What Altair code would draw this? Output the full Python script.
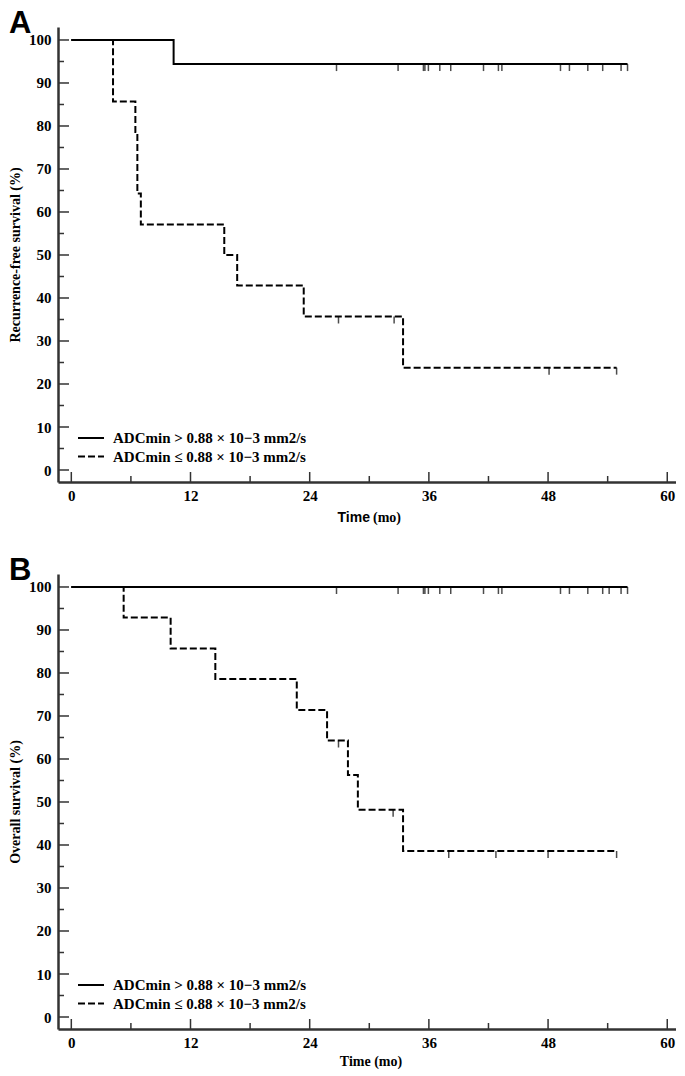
import altair as alt
import pandas as pd

# ---------------- data ----------------
GROUPS = ["ADCmin > 0.88 × 10−3 mm2/s", "ADCmin ≤ 0.88 × 10−3 mm2/s"]

# Panel A: recurrence-free survival
a_hi_t = [0, 10.3, 56.0]
a_hi_s = [100, 94.4, 94.4]
a_hi_cens_t = [26.7, 32.9, 35.45, 35.6, 35.95, 37.1, 38.2, 41.5, 43.0, 43.35,
               49.25, 50.15, 52.0, 53.5, 55.35, 56.0]
a_lo_t = [0, 4.2, 6.45, 6.65, 7.0, 15.4, 16.7, 23.4, 33.4, 54.9]
a_lo_s = [100, 85.7, 78.6, 64.3, 57.1, 50.0, 42.9, 35.7, 23.8, 23.8]
a_lo_cens_t = [26.9, 32.5, 48.1, 54.9]
a_lo_cens_s = [35.7, 35.7, 23.8, 23.8]

# Panel B: overall survival
b_hi_t = [0, 56.0]
b_hi_s = [100, 100]
b_hi_cens_t = [26.7, 32.9, 35.45, 35.6, 35.95, 37.1, 38.2, 41.5, 43.0, 43.35,
               49.25, 50.15, 52.0, 53.5, 54.15, 55.35, 56.0]
b_lo_t = [0, 5.27, 10.0, 14.5, 22.7, 25.75, 27.85, 28.85, 33.4, 54.9]
b_lo_s = [100, 92.9, 85.7, 78.6, 71.4, 64.3, 56.25, 48.2, 38.6, 38.6]
b_lo_cens_t = [26.9, 32.4, 38.0, 42.75, 48.0, 54.9]
b_lo_cens_s = [64.3, 48.2, 38.6, 38.6, 38.6, 38.6]

X_TICKS = [0, 12, 24, 36, 48, 60]
X_MINOR = [6, 18, 30, 42, 54]
Y_TICKS = [0, 10, 20, 30, 40, 50, 60, 70, 80, 90, 100]
Y_MINOR = [5, 15, 25, 35, 45, 55, 65, 75, 85, 95]

# ---------------- styling ----------------
W, H = 618, 455
XDOM = [-1.34, 60.88]
YDOM = [-2.79, 103.02]
SERIF = "Liberation Serif"
SANS = "Liberation Sans"
AX = "#333333"
DASH = [7, 3]


def one(**kw):
    return pd.DataFrame({k: [v] for k, v in kw.items()})


def panel(letter, ytitle, hi_t, hi_s, hi_ct, lo_t, lo_s, lo_ct, lo_cs, mixed_title, title_dy):
    curves = pd.DataFrame({
        "t": hi_t + lo_t,
        "s": hi_s + lo_s,
        "grp": [GROUPS[0]] * len(hi_t) + [GROUPS[1]] * len(lo_t),
    })
    cens = pd.DataFrame({
        "t": hi_ct + lo_ct,
        "s": [hi_s[-1]] * len(hi_ct) + lo_cs,
    })

    xs = alt.Scale(domain=XDOM, nice=False, zero=False)
    ys = alt.Scale(domain=YDOM, nice=False, zero=False)
    x_enc = alt.X("t:Q", scale=xs, axis=alt.Axis(
        values=X_TICKS, title=None, ticks=False, tickSize=0, grid=False,
        domainColor=AX, domainWidth=2.5, labelFont=SERIF, labelFontWeight="bold",
        labelFontSize=15, labelColor="black", labelPadding=6))
    y_enc = alt.Y("s:Q", scale=ys, axis=alt.Axis(
        values=Y_TICKS, title=ytitle, ticks=False, tickSize=0, grid=False,
        domainColor=AX, domainWidth=2.5, labelFont=SERIF, labelFontWeight="bold",
        labelFontSize=15, labelColor="black", labelPadding=7,
        titleFont=SERIF, titleFontWeight="bold", titleFontSize=14,
        titleColor="black", titlePadding=6))

    lines = alt.Chart(curves).mark_line(
        interpolate="step-after", strokeWidth=2, color="black"
    ).encode(
        x=x_enc, y=y_enc,
        strokeDash=alt.StrokeDash("grp:N", scale=alt.Scale(domain=GROUPS, range=[[1, 0], DASH]),
                                  legend=None),
    )
    ticks_c = alt.Chart(cens).mark_tick(
        orient="vertical", size=7, thickness=1.5, yOffset=3.5, color="black"
    ).encode(x=x_enc, y=y_enc)

    ymaj = alt.Chart(pd.DataFrame({"s": Y_TICKS})).mark_rule(color=AX, strokeWidth=1.5).encode(
        y=y_enc, x=alt.value(0), x2=alt.value(11))
    ymin = alt.Chart(pd.DataFrame({"s": Y_MINOR})).mark_rule(color=AX, strokeWidth=1.5).encode(
        y=y_enc, x=alt.value(0), x2=alt.value(6))
    xmaj = alt.Chart(pd.DataFrame({"t": X_TICKS})).mark_rule(color=AX, strokeWidth=1.5).encode(
        x=x_enc, y=alt.value(H), y2=alt.value(H - 10))
    xmin = alt.Chart(pd.DataFrame({"t": X_MINOR})).mark_rule(color=AX, strokeWidth=1.5).encode(
        x=x_enc, y=alt.value(H), y2=alt.value(H - 6))

    # legend (bottom-left, inside plot)
    leg_rows = []
    for i, (g, dash) in enumerate(zip(GROUPS, [[1, 0], DASH])):
        yy = 411 + 18.5 * i
        leg_rows.append(alt.Chart(one(label=g)).mark_rule(strokeWidth=2, color="black", strokeDash=dash)
                        .encode(x=alt.value(20), x2=alt.value(46), y=alt.value(yy)))
        leg_rows.append(alt.Chart(one(label=g)).mark_text(
            align="left", baseline="middle", font=SERIF, fontWeight="bold", fontSize=15, color="black")
            .encode(x=alt.value(55), y=alt.value(yy), text="label:N"))

    letter_txt = alt.Chart(one(label=letter)).mark_text(
        align="left", baseline="top", font=SANS, fontWeight="bold", fontSize=31, color="black"
    ).encode(x=alt.value(-49), y=alt.value(-18), text="label:N")

    if mixed_title:
        xt = [
            alt.Chart(one(label="Time")).mark_text(
                align="right", baseline="alphabetic", font=SANS, fontWeight="bold", fontSize=14, color="black"
            ).encode(x=alt.value(312), y=alt.value(H + title_dy), text="label:N"),
            alt.Chart(one(label="(mo)")).mark_text(
                align="left", baseline="alphabetic", font=SERIF, fontWeight="bold", fontSize=14, color="black"
            ).encode(x=alt.value(315), y=alt.value(H + title_dy), text="label:N"),
        ]
    else:
        xt = [
            alt.Chart(one(label="Time (mo)")).mark_text(
                align="center", baseline="alphabetic", font=SERIF, fontWeight="bold", fontSize=14, color="black"
            ).encode(x=alt.value(313), y=alt.value(H + title_dy), text="label:N"),
        ]

    return alt.layer(lines, ticks_c, ymaj, ymin, xmaj, xmin, *leg_rows, letter_txt, *xt).properties(
        width=W, height=H)


pA = panel("A", "Recurrence-free survival (%)", a_hi_t, a_hi_s, a_hi_cens_t,
           a_lo_t, a_lo_s, a_lo_cens_t, a_lo_cens_s, True, 40)
pB = panel("B", "Overall survival (%)", b_hi_t, b_hi_s, b_hi_cens_t,
           b_lo_t, b_lo_s, b_lo_cens_t, b_lo_cens_s, False, 37)

chart = alt.vconcat(pA, pB, spacing=30).properties(
    padding={"left": 0, "top": 0, "right": 0, "bottom": 0},
    background="white",
).configure_view(stroke=None)

chart.save("out.html", embed_options={"renderer": "svg", "actions": False})
